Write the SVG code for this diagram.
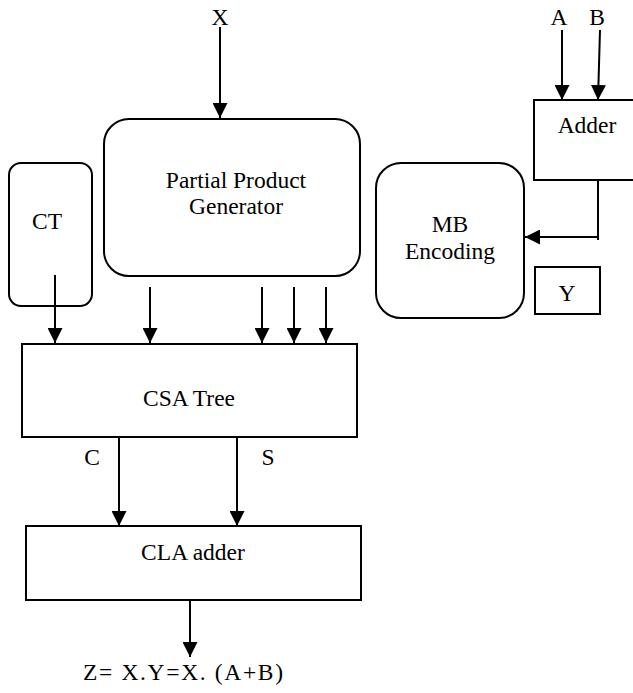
<svg xmlns="http://www.w3.org/2000/svg" width="633" height="693" viewBox="0 0 633 693" font-family="'Liberation Serif', 'Times New Roman', serif">
<defs>
<marker id="ah" viewBox="0 0 10 10" refX="10" refY="5" markerWidth="15" markerHeight="15" markerUnits="userSpaceOnUse" orient="auto">
<path d="M0,0 L10,5 L0,10 z" fill="#000"/>
</marker>
<style>
.box{fill:#fff;stroke:#000;stroke-width:2}
.ln{fill:none;stroke:#000;stroke-width:2}
.ar{fill:none;stroke:#000;stroke-width:2;marker-end:url(#ah)}
.t{font-family:'Liberation Serif','Times New Roman',serif;font-size:23.5px;fill:#000;text-anchor:middle}
</style>
</defs>
<rect width="633" height="693" fill="#fff"/>
<g id="connectors">
<line class="ar" x1="220" y1="27" x2="220" y2="118"/>
<line class="ar" x1="562" y1="30" x2="562" y2="100"/>
<line class="ar" x1="600" y1="30" x2="598" y2="100"/>
<polyline class="ln" points="598,180 598,240"/>
<line class="ar" x1="598" y1="237" x2="525" y2="237"/>
<line class="ar" x1="55" y1="274" x2="55" y2="343"/>
<line class="ar" x1="150" y1="287" x2="150" y2="343"/>
<line class="ar" x1="262" y1="287" x2="262" y2="343"/>
<line class="ar" x1="294" y1="287" x2="294" y2="343"/>
<line class="ar" x1="326" y1="287" x2="326" y2="343"/>
<line class="ar" x1="119" y1="437" x2="119" y2="526"/>
<line class="ar" x1="237" y1="437" x2="237" y2="526"/>
<line class="ar" x1="190" y1="600" x2="190" y2="657"/>
</g>
<g id="labels">
<text class="t" x="220" y="25">X</text>
<text class="t" x="559" y="25">A</text>
<text class="t" x="597" y="25">B</text>
<text class="t" x="92" y="465">C</text>
<text class="t" x="268" y="465">S</text>
<text class="t" x="183" y="680" textLength="200" lengthAdjust="spacing">Z= X.Y=X. (A+B)</text>
</g>
<g id="ppg">
<rect class="box" x="104" y="119" width="256" height="157" rx="25"/>
<text class="t" x="236" y="188">Partial Product</text>
<text class="t" x="236" y="214">Generator</text>
</g>
<g id="ct">
<rect class="box" x="9" y="163" width="83" height="143" rx="12"/>
<text class="t" x="47" y="229">CT</text>
</g>
<line class="ln" x1="55" y1="275" x2="55" y2="306"/>
<g id="adder">
<rect class="box" x="534" y="100" width="110" height="80"/>
<text class="t" x="587" y="133">Adder</text>
</g>
<g id="mb">
<rect class="box" x="376" y="163" width="148" height="155" rx="25"/>
<text class="t" x="450" y="232">MB</text>
<text class="t" x="450" y="259">Encoding</text>
</g>
<g id="y">
<rect class="box" x="535" y="267" width="65" height="47"/>
<text class="t" x="567" y="301">Y</text>
</g>
<g id="csa">
<rect class="box" x="22" y="344" width="335" height="93"/>
<text class="t" x="189" y="406">CSA Tree</text>
</g>
<g id="cla">
<rect class="box" x="26" y="526" width="335" height="74"/>
<text class="t" x="193" y="560">CLA adder</text>
</g>
</svg>
